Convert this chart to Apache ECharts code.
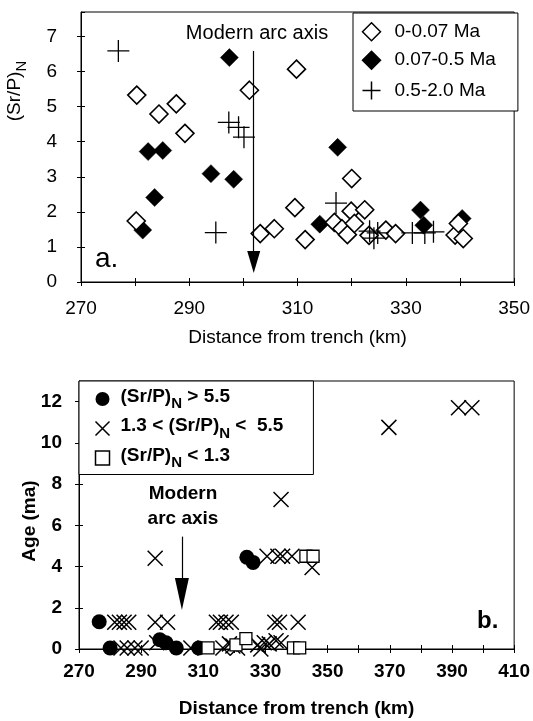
<!DOCTYPE html>
<html><head><meta charset="utf-8">
<script src="https://cdn.jsdelivr.net/npm/echarts@6/dist/echarts.min.js"></script>
<style>html,body{margin:0;padding:0;background:#fff}#c{width:533px;height:721px}</style>
</head><body><div id="c"></div>
<script>
// ---------- DATA ----------
// Panel a: (Sr/P)N vs distance from trench (km)
const srYoung = [ // 0-0.07 Ma (open diamonds)
  [280.3,5.33],[284.4,4.79],[287.6,5.08],[289.2,4.24],[280.2,1.74],[301.1,5.47],[309.8,6.07],
  [303.1,1.38],[305.7,1.52],[309.5,2.12],[311.4,1.21],[320.0,2.95],[319.9,2.02],[322.4,2.06],
  [316.8,1.70],[318.2,1.52],[319.2,1.35],[320.5,1.67],[323.2,1.33],[326.3,1.48],[328.1,1.38],
  [339.1,1.34],[339.7,1.67],[340.6,1.24]
];
const srMid = [ // 0.07-0.5 Ma (filled diamonds)
  [297.4,6.40],[282.4,3.72],[285.1,3.75],[283.6,2.41],[281.4,1.48],[294.0,3.09],[298.2,2.93],
  [314.1,1.65],[317.4,3.84],[332.7,2.05],[333.3,1.62],[340.4,1.81]
];
const srOld = [ // 0.5-2.0 Ma (plus)
  [276.9,6.59],[294.9,1.41],[297.3,4.55],[299.1,4.41],[300.1,4.13],
  [317.1,2.25],[323.3,1.45],[324.1,1.25],[324.8,1.40],[331.2,1.40],[333.5,1.40],[335.1,1.43]
];
const topXTicks = [270, 350, 10];   // min, max, step
const topYTicks = [0, 7.7, 1];
const topArrow = [301.9, 6.59, 0.57]; // x, from y, to y (arc axis)

// Panel b: Age (ma) vs distance from trench (km)
const ageHigh = [ // (Sr/P)N > 5.5
  [276.5,1.32],[280.0,0.05],[296.0,0.45],[298.0,0.30],[301.3,0.05],[308.5,0.05],[324.0,4.45],[326.0,4.20]
];
const ageMid = [ // 1.3 < (Sr/P)N < 5.5
  [281.5,1.3],[283.0,1.3],[284.5,1.3],[286.0,1.3],[294.5,1.3],[298.5,1.3],
  [314.2,1.3],[315.5,1.3],[317.3,1.3],[319.0,1.3],[333.0,1.3],[334.5,1.3],[340.5,1.3],
  [283.5,0.05],[285.5,0.05],[288.0,0.05],[290.0,0.05],[295.0,0.30],[306.0,0.05],
  [316.3,0.05],[318.4,0.25],[319.5,0.15],[321.0,0.05],[327.5,0.20],[328.5,0.0],[329.6,0.30],
  [331.2,0.25],[333.4,0.40],[335.0,0.30],
  [294.5,4.4],[330.5,4.5],[334.0,4.5],[335.5,4.5],[338.5,4.5],[345.0,3.95],
  [335.0,7.25],[369.7,10.75],[392.1,11.7],[396.4,11.7]
];
const ageLow = [ // (Sr/P)N < 1.3
  [311.5,0.05],[320.5,0.2],[323.7,0.5],[339.0,0.05],[341.0,0.05],[343.0,4.5],[345.3,4.5]
];
const botXTicks = [270, 410, 10];
const botYTicks = [0, 13, 2];
const botArrow = [303.1, 5.45, 2.67];

// ---------- CHART ----------
const FONT = '"Liberation Sans", Arial, Helvetica, sans-serif';
const PLUS = 'path://M0,10L20,10M10,0L10,20';
const CROSS = 'path://M0,0L10,10M10,0L0,10';
const chart = echarts.init(document.getElementById('c'), null, {renderer: 'canvas'});

function valAxis(grid, ticks, pos, opts) {
  return Object.assign({
    type: 'value', gridIndex: grid, position: pos,
    min: ticks[0], max: ticks[1], interval: ticks[2],
    splitLine: {show: false},
    axisLine: {show: true, onZero: false, lineStyle: {color: '#000', width: 1}},
    axisTick: {show: true, inside: false, length: 4, lineStyle: {color: '#000', width: 1}},
  }, opts);
}
function innerAxis(grid, ticks, pos) {
  return valAxis(grid, ticks, pos, {
    axisLine: {show: false}, axisLabel: {show: false},
    axisTick: {show: true, inside: true, length: 4, lineStyle: {color: '#000', width: 1}}
  });
}
const topLbl = {color: '#000', fontFamily: FONT, fontSize: 19};
const botLbl = {color: '#000', fontFamily: FONT, fontSize: 19, fontWeight: 'bold'};

const richSub = function (size, weight, lead) {
  return {
    p: {fontFamily: FONT, fontSize: size, fontWeight: weight, color: '#000', padding: [0, 0, 5, lead || 0]},
    t: {fontFamily: FONT, fontSize: size, fontWeight: weight, color: '#000', padding: [0, 0, 5, 0]},
    s: {fontFamily: FONT, fontSize: size - 4, fontWeight: weight, color: '#000', padding: [10, 0, 0, 0]}
  };
};
const botLegendText = {
  'hi': '{p|(Sr/P)}{s|N}{t| > 5.5}',
  'mid': '{p|1.3 < (Sr/P)}{s|N}{t| <  5.5}',
  'lo': '{p|(Sr/P)}{s|N}{t| < 1.3}'
};

const option = {
  animation: false,
  backgroundColor: '#fff',
  grid: [
    {left: 81, top: 12, width: 437, height: 270, show: true, borderColor: '#000', borderWidth: 1, backgroundColor: 'transparent'},
    {left: 79, top: 381, width: 437, height: 268, show: true, borderColor: '#000', borderWidth: 1, backgroundColor: 'transparent'}
  ],
  xAxis: [
    valAxis(0, topXTicks, 'bottom', {
      axisLabel: Object.assign({margin: 17, formatter: v => ((v - 270) % 20 === 0 ? String(v) : '')}, topLbl),
      name: 'Distance from trench (km)', nameLocation: 'middle', nameGap: 46,
      nameTextStyle: topLbl
    }),
    innerAxis(0, topXTicks, 'bottom'),
    valAxis(1, botXTicks, 'bottom', {
      axisLabel: Object.assign({margin: 13, formatter: v => ((v - 270) % 20 === 0 ? String(v) : '')}, botLbl),
      name: 'Distance from trench (km)', nameLocation: 'middle', nameGap: 50,
      nameTextStyle: botLbl
    }),
    innerAxis(1, botXTicks, 'bottom')
  ],
  yAxis: [
    valAxis(0, topYTicks, 'left', {
      axisLabel: Object.assign({margin: 24, showMaxLabel: false, formatter: v => (Number.isInteger(v) ? String(v) : '')}, topLbl)
    }),
    innerAxis(0, topYTicks, 'left'),
    valAxis(1, botYTicks, 'left', {
      axisLabel: Object.assign({margin: 17, showMaxLabel: false, formatter: v => (v % 2 === 0 ? String(v) : '')}, botLbl)
    }),
    innerAxis(1, botYTicks, 'left')
  ],
  legend: [
    {
      data: ['0-0.07 Ma', '0.07-0.5 Ma', '0.5-2.0 Ma'],
      orient: 'vertical', left: 353, top: 13,
      padding: [9, 22, 9, 7], itemWidth: 18, itemHeight: 18, itemGap: 9,
      borderColor: '#000', borderWidth: 1, backgroundColor: '#fff',
      selectedMode: false,
      formatter: name => '{p|' + name + '}',
      textStyle: {color: '#000', fontFamily: FONT, fontSize: 19,
        rich: {p: {fontFamily: FONT, fontSize: 19, color: '#000', padding: [0, 0, 0, 9]}}},
      itemStyle: {borderWidth: 1.5}
    },
    {
      data: ['hi', 'mid', 'lo'],
      orient: 'vertical', left: 79, top: 381,
      padding: [6, 30, 4, 14], itemWidth: 14, itemHeight: 14, itemGap: 5,
      borderColor: '#000', borderWidth: 1, backgroundColor: '#fff',
      selectedMode: false,
      formatter: name => botLegendText[name],
      textStyle: {color: '#000', fontFamily: FONT, fontSize: 19, fontWeight: 'bold', rich: richSub(19, 'bold', 6)},
      itemStyle: {borderWidth: 1.5}
    }
  ],
  series: [
    {
      name: '0.07-0.5 Ma', type: 'scatter', xAxisIndex: 0, yAxisIndex: 0, data: srMid,
      symbol: 'diamond', symbolSize: 18, silent: true,
      itemStyle: {color: '#000', borderColor: '#000', borderWidth: 0.5, opacity: 1}
    },
    {
      name: '0-0.07 Ma', type: 'scatter', xAxisIndex: 0, yAxisIndex: 0, data: srYoung,
      symbol: 'diamond', symbolSize: 18, silent: true,
      itemStyle: {color: '#fff', borderColor: '#000', borderWidth: 1.6, opacity: 1},
      markLine: {
        silent: true, symbol: ['none', 'triangle'], symbolSize: [13, 22],
        lineStyle: {color: '#000', width: 1.2, type: 'solid', opacity: 1}, label: {show: false},
        itemStyle: {color: '#000', opacity: 1},
        data: [[{coord: [topArrow[0], topArrow[1]]}, {coord: [topArrow[0], topArrow[2]]}]]
      }
    },
    {
      name: '0.5-2.0 Ma', type: 'scatter', xAxisIndex: 0, yAxisIndex: 0, data: srOld,
      symbol: PLUS, symbolSize: 22, silent: true,
      itemStyle: {color: 'none', borderColor: '#000', borderWidth: 1.3, opacity: 1}
    },
    {
      name: 'mid', type: 'scatter', xAxisIndex: 2, yAxisIndex: 2, data: ageMid,
      symbol: CROSS, symbolSize: 15, silent: true,
      itemStyle: {color: 'none', borderColor: '#000', borderWidth: 1.5, opacity: 1},
      markLine: {
        silent: true, symbol: ['none', 'triangle'], symbolSize: [14, 32],
        lineStyle: {color: '#000', width: 1.2, type: 'solid', opacity: 1}, label: {show: false},
        itemStyle: {color: '#000', opacity: 1},
        data: [[{coord: [botArrow[0], botArrow[1]]}, {coord: [botArrow[0], botArrow[2]]}]]
      }
    },
    {
      name: 'hi', type: 'scatter', xAxisIndex: 2, yAxisIndex: 2, data: ageHigh,
      symbol: 'circle', symbolSize: 15, silent: true,
      itemStyle: {color: '#000', opacity: 1}
    },
    {
      name: 'lo', type: 'scatter', xAxisIndex: 2, yAxisIndex: 2, data: ageLow,
      symbol: 'rect', symbolSize: 12, silent: true,
      itemStyle: {color: '#fff', borderColor: '#000', borderWidth: 1.3, opacity: 1}
    }
  ],
  graphic: [
    {type: 'text', x: 17, y: 91, rotation: Math.PI / 2, silent: true,
      style: {text: '{t|(Sr/P)}{s|N}', rich: richSub(19, 'normal'), align: 'center', verticalAlign: 'middle'}},
    {type: 'text', x: 30, y: 521, rotation: Math.PI / 2, silent: true,
      style: {text: 'Age (ma)', font: 'bold 19px ' + FONT, fill: '#000', align: 'center', verticalAlign: 'middle'}},
    {type: 'text', x: 257, y: 33, silent: true,
      style: {text: 'Modern arc axis', font: '20px ' + FONT, fill: '#000', align: 'center', verticalAlign: 'middle'}},
    {type: 'text', x: 183, y: 506, silent: true,
      style: {text: 'Modern\narc axis', font: 'bold 19px ' + FONT, lineHeight: 25, fill: '#000', align: 'center', verticalAlign: 'middle'}},
    {type: 'text', x: 95, y: 259, silent: true,
      style: {text: 'a.', font: '28px ' + FONT, fill: '#000', align: 'left', verticalAlign: 'middle'}},
    {type: 'text', x: 477, y: 621, silent: true,
      style: {text: 'b.', font: 'bold 24px ' + FONT, fill: '#000', align: 'left', verticalAlign: 'middle'}}
  ]
};
chart.setOption(option);
</script>
</body></html>
